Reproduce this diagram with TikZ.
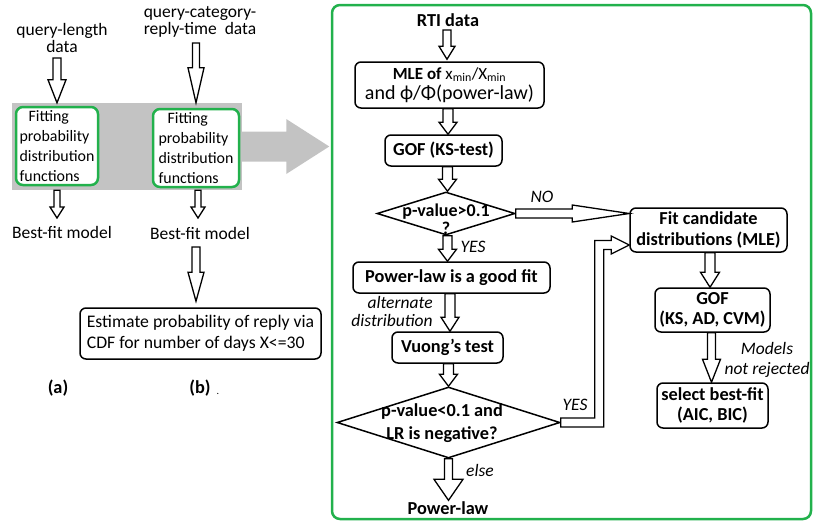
\documentclass[tikz,border=0pt]{standalone}
\usepackage{fontspec}
\setmainfont{Carlito}
\usetikzlibrary{calc,shapes.geometric}
\definecolor{boxgreen}{RGB}{34,177,76}
\definecolor{panelgray}{RGB}{195,195,195}
\tikzset{
  hollow/.style={draw=black, fill=white, line width=1.3pt, line join=miter},
  varrow/.style n args={3}{to path={let \p1=(\tikztostart), \p2=(\tikztotarget) in
    (\x1-#1,\y1) -- (\x1-#1,\y2+#3) -- (\x1-#2,\y2+#3) -- (\x1,\y2) -- (\x1+#2,\y2+#3) -- (\x1+#1,\y2+#3) -- (\x1+#1,\y1) -- cycle}},
  harrow/.style n args={3}{to path={let \p1=(\tikztostart), \p2=(\tikztotarget) in
    (\x1,\y1+#1) -- (\x2-#3,\y1+#1) -- (\x2-#3,\y1+#2) -- (\x2,\y1) -- (\x2-#3,\y1-#2) -- (\x2-#3,\y1-#1) -- (\x1,\y1-#1) -- cycle}},
  txt/.style={font=\fontsize{17.5}{17}\selectfont, inner sep=0pt, align=center},
  btxt/.style={font=\bfseries\fontsize{18.3}{20}\selectfont, inner sep=0pt, align=center},
  lab/.style={font=\itshape\fontsize{17.5}{18}\selectfont, inner sep=0pt, align=center},
  rbox/.style={draw, line width=1.5pt, rounded corners=6pt, fill=white, inner sep=0pt, align=center, font=\bfseries\fontsize{18.3}{20.5}\selectfont},
  gbox/.style={draw=boxgreen, line width=2.5pt, rounded corners=7pt, fill=white, inner sep=0pt, align=left, font=\fontsize{15.9}{20}\selectfont},
  dia/.style={draw, diamond, line width=1.5pt, fill=white, inner sep=0pt},
}
\begin{document}
\begin{tikzpicture}[x=1pt,y=-1pt]
\useasboundingbox (0,0) rectangle (814,523);
% ---------- left part ----------
\node[txt] (qlen) at (62,38) {query-length\\data};
\node[txt] (qcat) at (200,22) {query-category-\\reply-time\ \ data};
\node[fill=panelgray, minimum width=230pt, minimum height=87pt, inner sep=0pt] (fitpanel) at (127,146.5) {};
\node[gbox, minimum width=82pt, minimum height=78pt] (fit1) at (57,146) {\hspace*{9pt}Fitting\\probability\\distribution\\functions};
\node[gbox, minimum width=86pt, minimum height=78pt] (fit2) at (196,148) {\hspace*{9pt}Fitting\\probability\\distribution\\functions};
\node[txt] (bfa) at (62,232) {Best-fit model};
\node[txt] (bfb) at (200,233) {Best-fit model};
\node[rbox, font=\fontsize{17.7}{21}\selectfont, align=left, minimum width=241pt, minimum height=51pt] (est) at (200.5,333.5) {Estimate probability of reply via\\CDF for number of days X<=30};
\node[btxt] (la) at (58,388) {(a)};
\node[btxt] (lb) at (200,388) {(b)};
\node[txt, font=\fontsize{10}{10}\selectfont] (dot) at (218,394) {.};
\draw[hollow, varrow={4pt}{9pt}{23pt}] ($(qlen.center)+(-5,20)$) to (fitpanel.north);
\draw[hollow, varrow={3.5pt}{8pt}{35pt}] ($(qcat.center)+(-4,21)$) to (fitpanel.north);
\draw[hollow, varrow={3pt}{7pt}{11pt}] ($(fitpanel.south)+(-70,0)$) to ($(bfa.center)+(0,-14)$);
\draw[hollow, varrow={3pt}{7pt}{11pt}] ($(fitpanel.south)+(71,0)$) to ($(bfb.center)+(0,-15)$);
\draw[hollow, varrow={4pt}{8pt}{29pt}] ($(bfb.center)+(-4,14)$) to ($(est.north)+(0,-6)$);
% ---------- right part ----------
\node[draw=boxgreen, line width=2.5pt, rounded corners=8pt, minimum width=479pt, minimum height=514pt, inner sep=0pt] (panel) at (571.5,262) {};
\draw[fill=panelgray, draw=none, harrow={15pt}{27.5pt}{43pt}] (fitpanel.east) to ($(panel.west)+(-1.5,0)$);
\node[btxt] (rti) at (448,20) {RTI data};
\node[rbox, minimum width=189pt, minimum height=46pt, font=\bfseries\fontsize{17}{20}\selectfont] (mle) at (449.5,85) {MLE of {\mdseries x\textsubscript{min}/X\textsubscript{min}}\\{\mdseries\fontsize{20}{21}\selectfont and ϕ/Φ(power-law)}};
\node[rbox, minimum width=117pt, minimum height=31pt] (gof1) at (443.5,150.5) {GOF (KS-test)};
\node[dia, minimum width=138pt, minimum height=43pt] (d1) at (446,213.5) {};
\node[btxt, font=\bfseries\fontsize{18}{18}\selectfont] (d1t) at (446,219) {p-value>0.1\\?};
\node[rbox, minimum width=197pt, minimum height=31pt] (plgood) at (451.5,277.5) {Power-law is a good fit};
\node[rbox, minimum width=111pt, minimum height=31pt] (vuong) at (447.5,347.5) {Vuong's test};
\node[dia, minimum width=223pt, minimum height=71pt] (d2) at (448.5,422.5) {};
\node[btxt, font=\bfseries\fontsize{18.3}{23}\selectfont] (d2t) at (442,423.5) {p-value<0.1 and\\LR is negative?};
\node[btxt] (pl) at (448,508) {Power-law};
\node[rbox, minimum width=157pt, minimum height=44pt] (fit) at (708.5,230) {Fit candidate\\distributions (MLE)};
\node[rbox, minimum width=115pt, minimum height=44pt] (gof2) at (712.5,310) {GOF\\(KS, AD, CVM)};
\node[rbox, minimum width=111pt, minimum height=45pt] (sel) at (712.5,405.5) {select best-fit\\(AIC, BIC)};
% labels
\node[lab] (lno) at (542,197) {NO};
\node[lab] (lyes1) at (473,247) {YES};
\node[lab, align=right] (lalt) at (392,311.5) {alternate\\distribution};
\node[lab] (lelse) at (480,470) {else};
\node[lab] (lyes2) at (575,405) {YES};
\node[lab, font=\itshape\fontsize{17.5}{20}\selectfont] (lmod) at (767,360) {Models\\not rejected};
% arrows
\draw[hollow, varrow={4pt}{8pt}{13pt}] ($(rti.center)+(-1,10)$) to ($(mle.north)+(0,-2)$);
\draw[hollow, varrow={5pt}{9pt}{12pt}] ($(mle.south)+(-1.5,0)$) to (gof1.north);
\draw[hollow, varrow={5pt}{9pt}{12pt}] ($(gof1.south)+(4,0)$) to (d1.north);
\draw[hollow, varrow={4.5pt}{9pt}{12pt}] ($(d1.south)+(1.5,0)$) to (plgood.north);
\draw[hollow, varrow={5pt}{9pt}{14pt}] ($(plgood.south)+(-1.5,0)$) to (vuong.north);
\draw[hollow, varrow={5pt}{9pt}{12pt}] ($(vuong.south)+(1,0)$) to (d2.north);
\draw[hollow, varrow={4pt}{14.5pt}{21pt}] (d2.south) to ($(pl.north)+(0,-1)$);
\draw[hollow, varrow={5pt}{9.5pt}{15pt}] ($(fit.south)+(1.5,0)$) to (gof2.north);
\draw[hollow, varrow={4pt}{9pt}{23pt}] ($(gof2.south)+(-1,0)$) to (sel.north);
\draw[hollow, harrow={4.5pt}{8.5pt}{57pt}] (d1.east) to (fit.west);
\draw[hollow] let \p1=(d2.east), \p2=($(fit.west)+(0,15)$) in
  (\x1,\y1+4.5pt) -- (\x2-30pt-4.5pt,\y1+4.5pt) -- (\x2-30pt-4.5pt,\y2+4.5pt) -- (\x2-18pt,\y2+4.5pt)
  -- (\x2-18pt,\y2+9pt) -- (\x2,\y2) -- (\x2-18pt,\y2-9pt) -- (\x2-18pt,\y2-4.5pt)
  -- (\x2-30pt+4.5pt,\y2-4.5pt) -- (\x2-30pt+4.5pt,\y1-4.5pt) -- (\x1,\y1-4.5pt) -- cycle;
\end{tikzpicture}
\end{document}
